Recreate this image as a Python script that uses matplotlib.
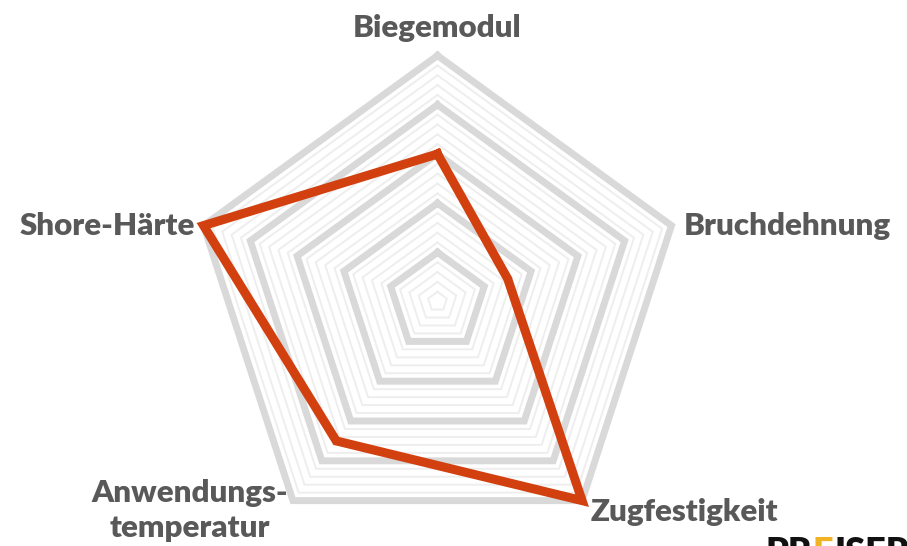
import numpy as np
import matplotlib.pyplot as plt

# axes / values (scale 0-10)
labels = ['Biegemodul', 'Bruchdehnung', 'Zugfestigkeit', 'Anwendungs-\ntemperatur', 'Shore-Härte']
values = [6, 3, 10, 7, 10]
vmax = 10

W, H = 907, 546
cx, cy = 437.5, 301.6      # centre in pixels (from top)
R = 246.0                  # outer radius in pixels

fig = plt.figure(figsize=(W / 100, H / 100), dpi=100)
ax = fig.add_axes([0, 0, 1, 1])
ax.set_xlim(-cx / R, (W - cx) / R)
ax.set_ylim(-(H - cy) / R, cy / R)
ax.axis('off')

n = len(labels)
ang = np.deg2rad(90 - 72 * np.arange(n))
ang_c = np.append(ang, ang[0])

# grid pentagons: thick every 20 %, thin in between
for i in range(1, 26):
    r = i / 25
    if i % 5 == 0:
        ax.plot(r * np.cos(ang_c), r * np.sin(ang_c), color='#d9d9d9', lw=5,
                solid_joinstyle='miter', zorder=2)
    else:
        ax.plot(r * np.cos(ang_c), r * np.sin(ang_c), color='#eeeeee', lw=1.4,
                solid_joinstyle='miter', zorder=1)

# data line
v = np.array(values + values[:1]) / vmax
ax.plot(v * np.cos(ang_c), v * np.sin(ang_c), color='#d2400f', lw=6.5,
        solid_joinstyle='miter', zorder=3)

# labels
txt = dict(fontsize=22.5, fontweight='heavy', color='#595959', family=['Lato', 'DejaVu Sans'])
offs = [(0, 10, 'center', 'bottom'), (9, 0, 'left', 'center'), (6, -8, 'left', 'center'),
        (-74, -7, 'center', 'center'), (-6, 0, 'right', 'center')]
for a, lab, (dx, dy, ha, va) in zip(ang, labels, offs):
    ax.annotate(lab, (np.cos(a), np.sin(a)), xytext=(dx, dy), textcoords='offset points',
                ha=ha, va=va, linespacing=1.3, **txt)

# logo, cut off at the bottom edge
fig.canvas.draw()
rend = fig.canvas.get_renderer()
x0 = 765 / W
for part, col in [('PR', '#111111'), ('E', '#f0b323'), ('ISER', '#111111')]:
    t = fig.text(x0, 1 - 536 / H, part, ha='left', va='top', fontsize=26,
                 fontweight='heavy', color=col, family='Lato')
    bb = t.get_window_extent(rend)
    x0 = (bb.x1 + 1) / W

fig.savefig('out.png', dpi=100)
